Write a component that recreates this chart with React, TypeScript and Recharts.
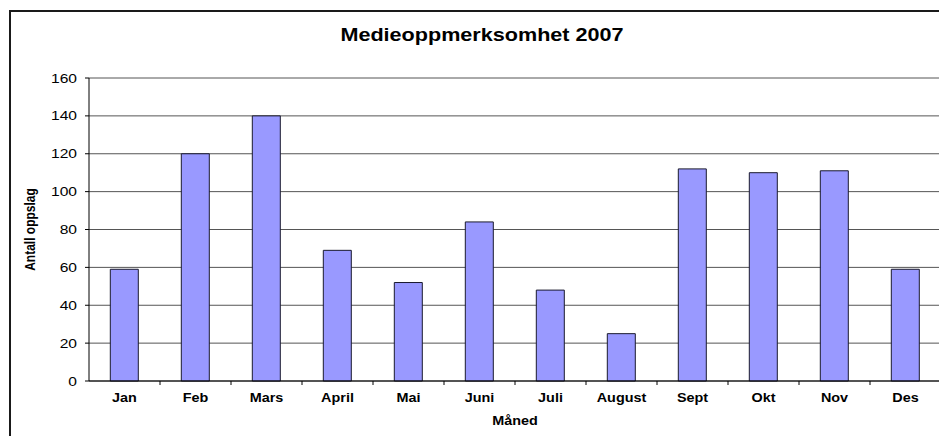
import React from "react";
import { BarChart, Bar, XAxis, YAxis, CartesianGrid } from "recharts";

const months = ["Jan", "Feb", "Mars", "April", "Mai", "Juni", "Juli", "August", "Sept", "Okt", "Nov", "Des"];
const counts = [59, 120, 140, 69, 52, 84, 48, 25, 112, 110, 111, 59];
const yTicks = [0, 20, 40, 60, 80, 100, 120, 140, 160];
const title = "Medieoppmerksomhet 2007";
const xTitle = "Måned";
const yTitle = "Antall oppslag";

const data = months.map((m, i) => ({ month: m, value: counts[i] }));

const FONT = "'Liberation Sans', Arial, sans-serif";
const SX = 1.2;

const YTick = (props: any) => {
  const { x, y, payload } = props;
  return (
    <text
      transform={`translate(${x},${y + 4.6}) scale(${SX},1)`}
      textAnchor="end"
      fontFamily={FONT}
      fontSize={13}
      fill="#000"
    >
      {payload.value}
    </text>
  );
};

const XTick = (props: any) => {
  const { x, y, payload, width } = props;
  const half = width / (2 * months.length);
  const axisY = y - 12;
  return (
    <g>
      <line x1={x + half} x2={x + half} y1={axisY} y2={axisY + 4} stroke="#000" strokeWidth={1} />
      <text
        transform={`translate(${x},${y + 9}) scale(${SX},1)`}
        textAnchor="middle"
        fontFamily={FONT}
        fontSize={12}
        fontWeight="bold"
        fill="#000"
      >
        {payload.value}
      </text>
    </g>
  );
};

export default function App() {
  return (
    <div style={{ position: "fixed", left: 0, top: 0, width: 939, height: 436, overflow: "hidden", background: "#fff" }}>
      <div
        style={{
          position: "absolute",
          left: 9,
          top: 10,
          width: 1000,
          height: 500,
          border: "2px solid #1a1a1a",
          boxSizing: "border-box",
        }}
      />
      <div style={{ position: "absolute", left: 0, top: 0 }}>
        <BarChart
          width={960}
          height={460}
          data={data}
          margin={{ top: 78, right: 19, bottom: 49, left: 0 }}
          barCategoryGap="30%"
        >
          <CartesianGrid horizontal={true} vertical={false} stroke="#555" strokeWidth={1} />
          <XAxis
            dataKey="month"
            height={30}
            interval={0}
            tickLine={false}
            tickSize={4}
            tickMargin={8}
            axisLine={{ stroke: "#000", strokeWidth: 1 }}
            tick={<XTick />}
          />
          <YAxis
            width={89}
            domain={[0, 160]}
            ticks={yTicks}
            interval={0}
            tickSize={4}
            tickMargin={8}
            axisLine={{ stroke: "#000", strokeWidth: 1 }}
            tickLine={{ stroke: "#000", strokeWidth: 1 }}
            tick={<YTick />}
          />
          <Bar dataKey="value" fill="#9999FF" stroke="#1a1a2e" strokeWidth={1} isAnimationActive={false} />
        </BarChart>
      </div>
      <svg style={{ position: "absolute", left: 0, top: 0, pointerEvents: "none" }} width={939} height={436}>
        <text
          transform={`translate(482,41) scale(${SX},1)`}
          textAnchor="middle"
          fontFamily={FONT}
          fontSize={18}
          fontWeight="bold"
          fill="#000"
        >
          {title}
        </text>
        <text
          transform={`translate(515,425) scale(${SX},1)`}
          textAnchor="middle"
          fontFamily={FONT}
          fontSize={12}
          fontWeight="bold"
          fill="#000"
        >
          {xTitle}
        </text>
        <text
          transform={`translate(35,229.5) scale(${SX},1) rotate(-90)`}
          textAnchor="middle"
          fontFamily={FONT}
          fontSize={12}
          fontWeight="bold"
          fill="#000"
        >
          {yTitle}
        </text>
      </svg>
    </div>
  );
}
